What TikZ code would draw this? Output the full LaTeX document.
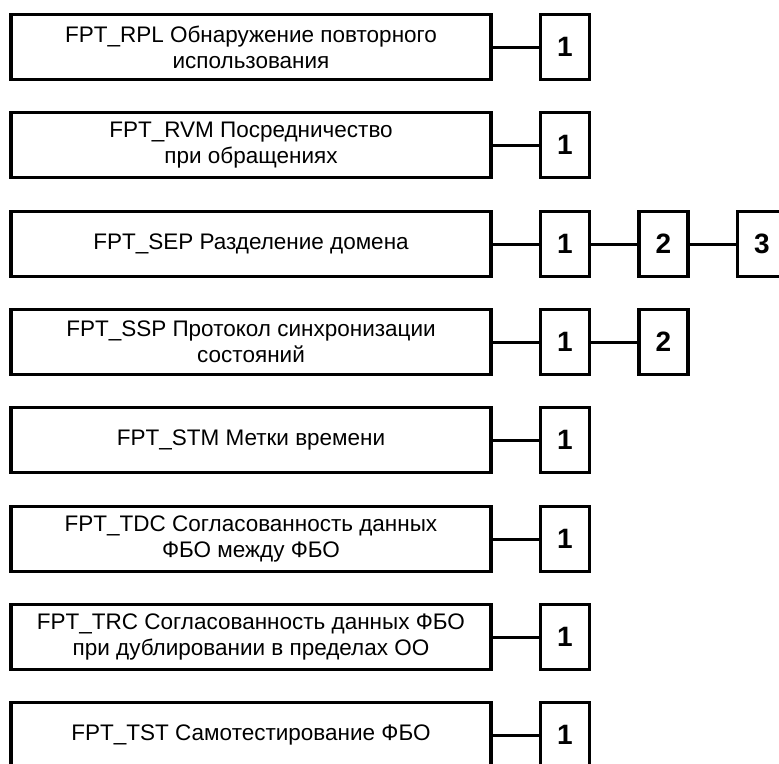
\documentclass[tikz,border=0pt]{standalone}
\usepackage{fontspec}
\setmainfont{Liberation Sans}
\usetikzlibrary{positioning}

\tikzset{
  famblock/.style={draw, line width=3.5pt, minimum width=480pt, minimum height=65pt, inner sep=0pt, align=center, font=\fontsize{22.5}{26}\selectfont},
  cmpblock/.style={draw, line width=3.5pt, minimum width=49pt, minimum height=65pt, inner sep=0pt, font=\fontsize{28}{28}\selectfont\bfseries},
  link/.style={line width=3pt}
}

\begin{document}
\begin{tikzpicture}[x=1pt,y=-1pt]
\useasboundingbox (0,0) rectangle (779,763);

% families
\node[famblock] (rpl) at (251,47) {FPT\_RPL Обнаружение повторного\\использования};
\node[famblock] (rvm) at (251,145) {FPT\_RVM Посредничество\\при обращениях};
\node[famblock] (sep) at (251,244) {FPT\_SEP Разделение домена};
\node[famblock] (ssp) at (251,342) {FPT\_SSP Протокол синхронизации\\состояний};
\node[famblock] (stm) at (251,440) {FPT\_STM Метки времени};
\node[famblock] (tdc) at (251,539) {FPT\_TDC Согласованность данных\\ФБО между ФБО};
\node[famblock] (trc) at (251,637) {FPT\_TRC Согласованность данных ФБО\\при дублировании в пределах ОО};
\node[famblock] (tst) at (251,735) {FPT\_TST Самотестирование ФБО};

% components
\node[cmpblock, right=46pt of rpl] (rpl1) {1};
\node[cmpblock, right=46pt of rvm] (rvm1) {1};
\node[cmpblock, right=46pt of sep] (sep1) {1};
\node[cmpblock, right=46pt of sep1] (sep2) {2};
\node[cmpblock, right=46pt of sep2] (sep3) {3};
\node[cmpblock, right=46pt of ssp] (ssp1) {1};
\node[cmpblock, right=46pt of ssp1] (ssp2) {2};
\node[cmpblock, right=46pt of stm] (stm1) {1};
\node[cmpblock, right=46pt of tdc] (tdc1) {1};
\node[cmpblock, right=46pt of trc] (trc1) {1};
\node[cmpblock, right=46pt of tst] (tst1) {1};

% links
\draw[link] (rpl) -- (rpl1);
\draw[link] (rvm) -- (rvm1);
\draw[link] (sep) -- (sep1);
\draw[link] (sep1) -- (sep2);
\draw[link] (sep2) -- (sep3);
\draw[link] (ssp) -- (ssp1);
\draw[link] (ssp1) -- (ssp2);
\draw[link] (stm) -- (stm1);
\draw[link] (tdc) -- (tdc1);
\draw[link] (trc) -- (trc1);
\draw[link] (tst) -- (tst1);
\end{tikzpicture}
\end{document}
